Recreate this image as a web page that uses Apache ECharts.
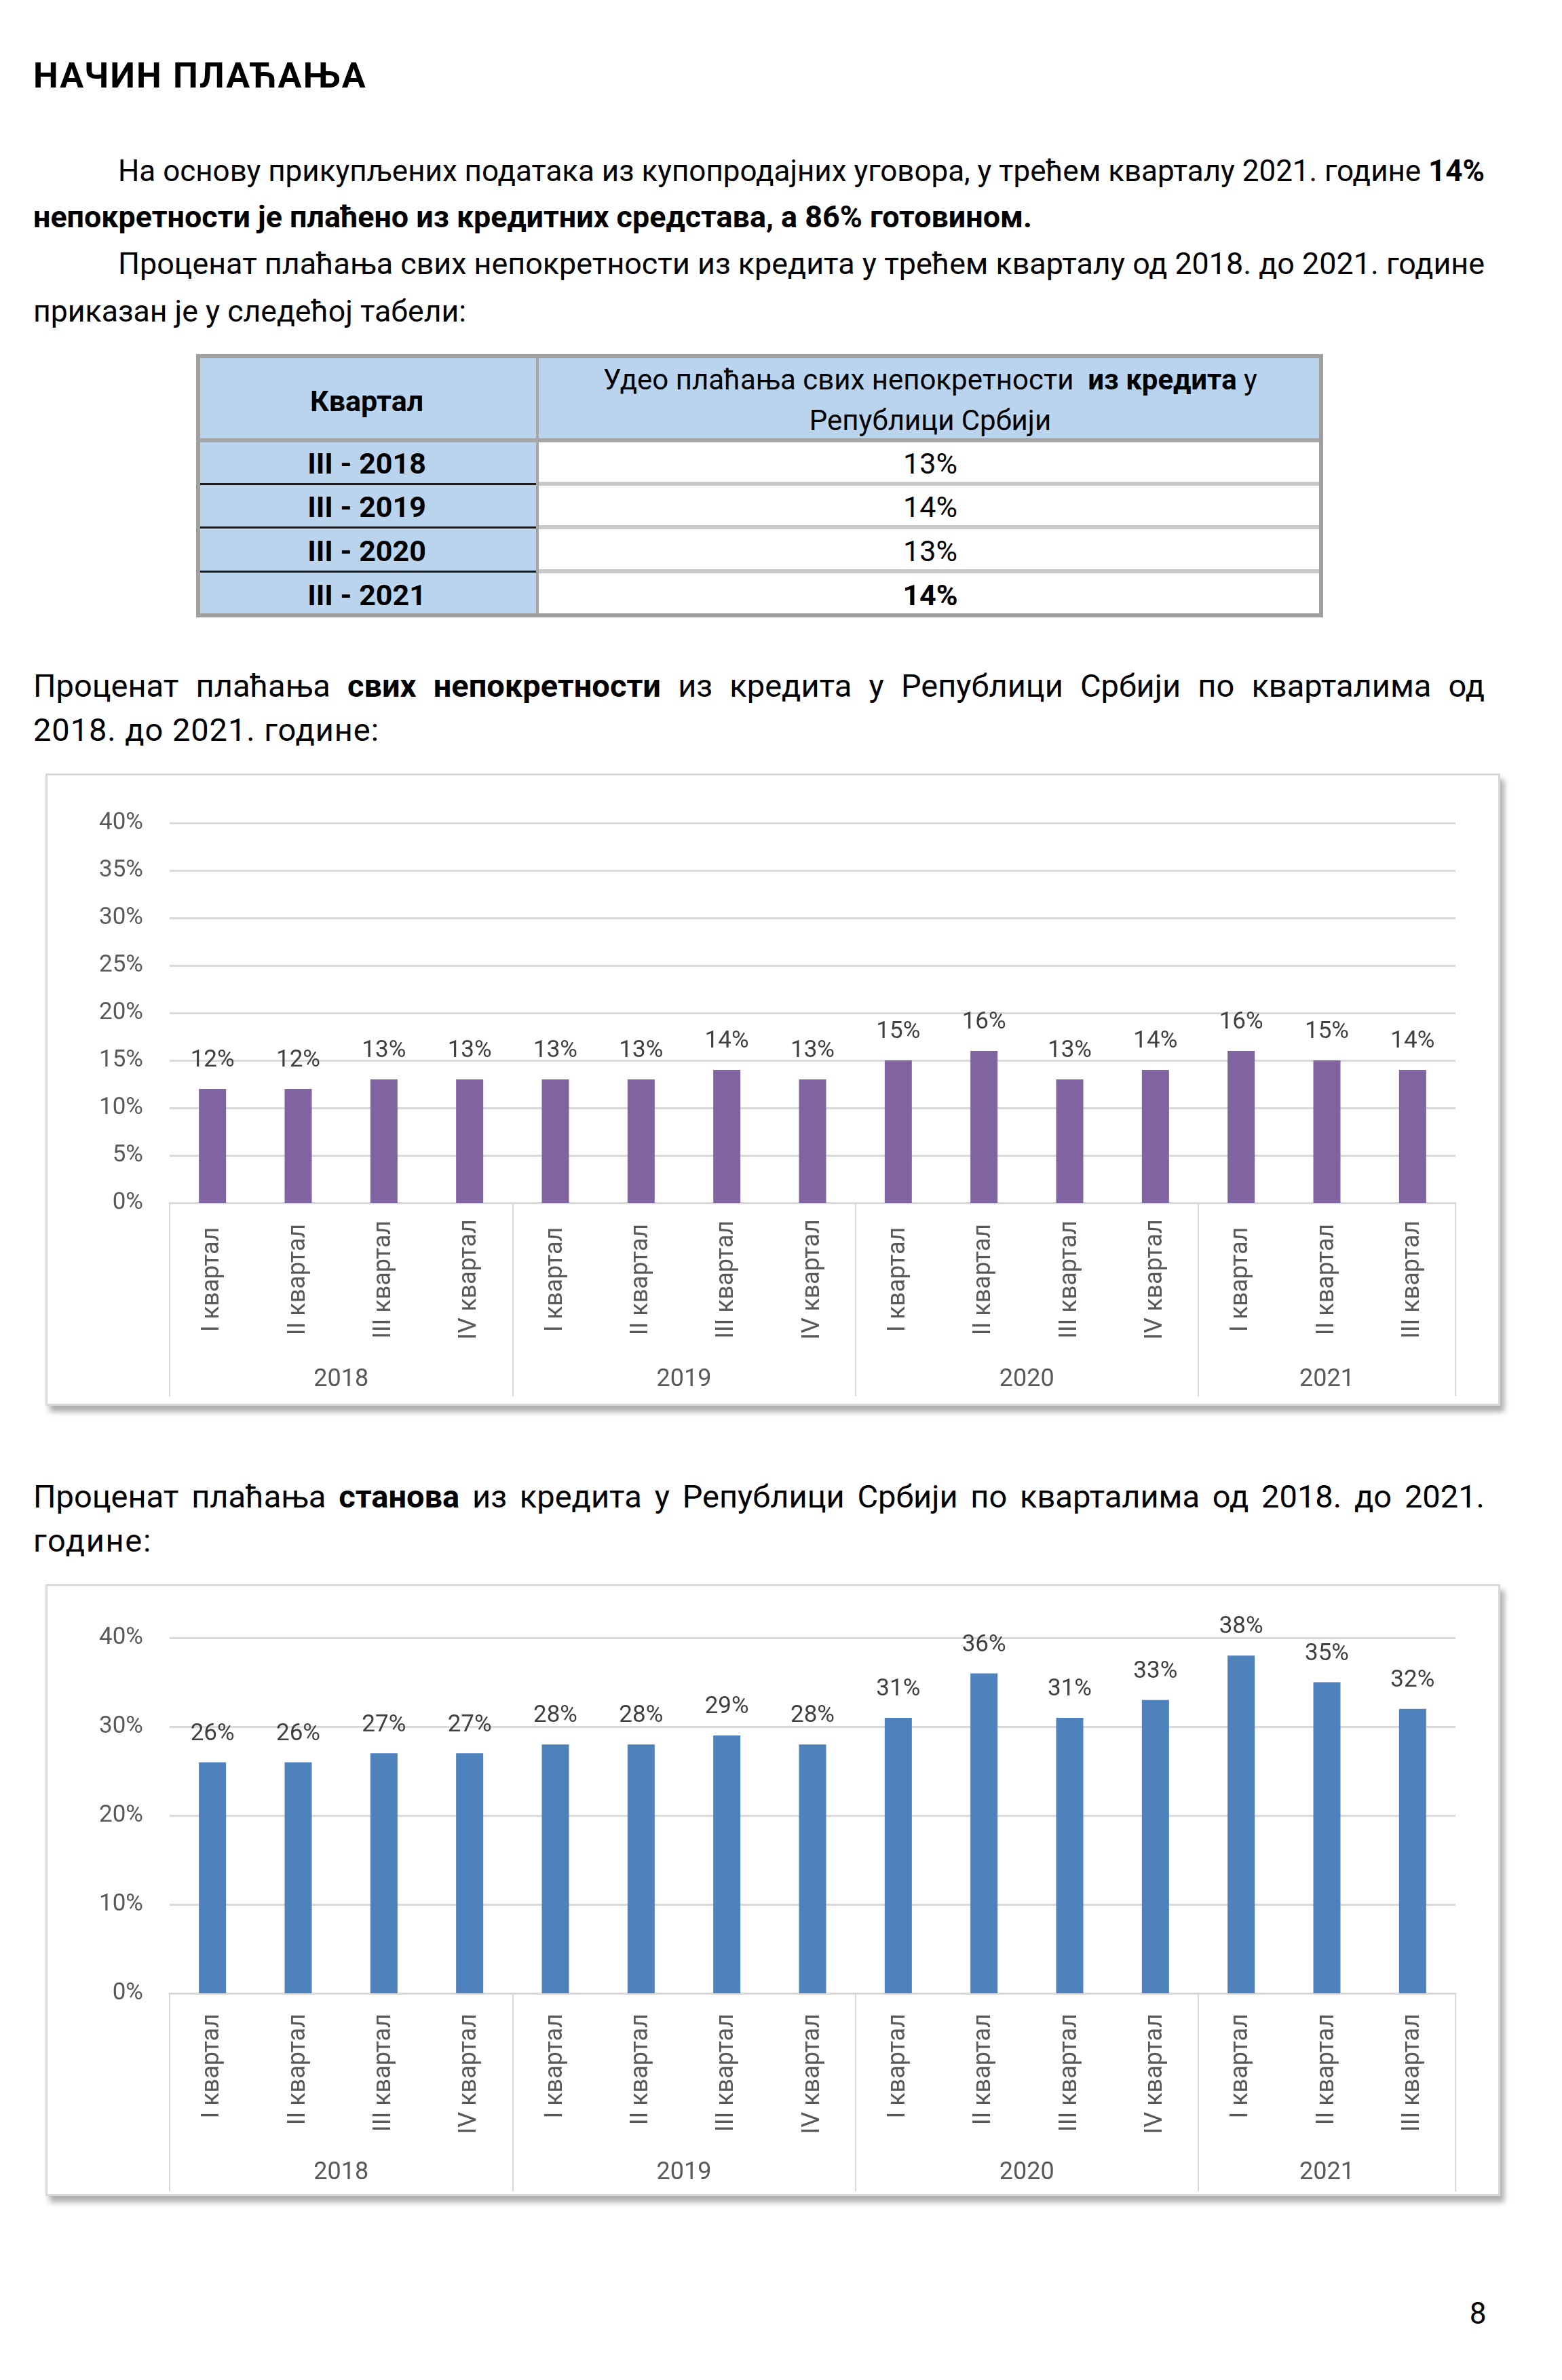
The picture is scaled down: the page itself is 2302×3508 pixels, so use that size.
<!DOCTYPE html>
<html lang="sr"><head><meta charset="utf-8">
<script src="https://cdn.jsdelivr.net/npm/echarts@6/dist/echarts.min.js"></script>
<style>
html,body{margin:0;padding:0;background:#fff;}
body{width:2302px;height:3508px;position:relative;overflow:hidden;font-family:Roboto,"Noto Sans",sans-serif;color:#000;}
.ln{position:absolute;white-space:nowrap;height:64px;line-height:64px;font-size:45px;}
.ln > span{display:inline-block;transform-origin:0 50%;}
.frame{position:absolute;box-sizing:border-box;border:3px solid #D9D9D9;background:#fff;box-shadow:6px 9px 8px rgba(0,0,0,0.32);}
.chart{position:absolute;}
.tb{position:absolute;box-sizing:border-box;}
.tt{position:absolute;white-space:nowrap;text-align:center;font-size:43px;height:60px;line-height:60px;}
</style>
</head><body>

<div id="page"></div>
<div class="frame" style="left:67px;top:1140px;width:2144px;height:932px;"></div>
<div id="c1" class="chart" style="left:67px;top:1140px;width:2144px;height:932px;"></div>
<div class="frame" style="left:67px;top:2335px;width:2144px;height:902px;"></div>
<div id="c2" class="chart" style="left:67px;top:2335px;width:2144px;height:902px;"></div>

<script>
// ---------- data ----------
const quarters = ["I квартал","II квартал","III квартал","IV квартал",
                  "I квартал","II квартал","III квартал","IV квартал",
                  "I квартал","II квартал","III квартал","IV квартал",
                  "I квартал","II квартал","III квартал"];
const years = ["2018","2019","2020","2021"];
const quartersPerYear = [4,4,4,3];
const allPropertyShare = [12,12,13,13,13,13,14,13,15,16,13,14,16,15,14];
const flatShare = [26,26,27,27,28,28,29,28,31,36,31,33,38,35,32];
const tableQuarters = ["III - 2018","III - 2019","III - 2020","III - 2021"];
const tableShares = ["13%","14%","13%","14%"];

// ---------- page text ----------
const page = document.getElementById('page');
function line(html, left, cy, width, mode, extra){
  const d = document.createElement('div');
  d.className = 'ln';
  d.style.left = left + 'px';
  d.style.top = (cy - 32) + 'px';
  d.dataset.w = width;
  d.dataset.m = mode;
  if (extra) d.style.cssText += extra;
  d.innerHTML = '<span>' + html + '</span>';
  page.appendChild(d);
}
line('<b>НАЧИН ПЛАЋАЊА</b>', 49, 112, 492, 'ls', 'font-size:52px;');
line('На основу прикупљених података из купопродајних уговора, у трећем кварталу 2021. године <b>14%</b>', 174, 252, 2014, 'j');
line('<b>непокретности је плаћено из кредитних средстава, а 86% готовином.</b>', 49, 320, 1472, 'ls');
line('Проценат плаћања свих непокретности из кредита у трећем кварталу од 2018. до 2021. године', 174, 389, 2014, 'j');
line('приказан је у следећој табели:', 49, 459, 638, 'ls');
line('Проценат плаћања <b>свих непокретности</b> из кредита у Републици Србији по кварталима од', 49, 1011, 2139, 'j', 'font-size:47px;');
line('2018. до 2021. године:', 49, 1076, 510, 'ls', 'font-size:47px;');
line('Проценат плаћања <b>станова</b> из кредита у Републици Србији по кварталима од 2018. до 2021.', 49, 2206, 2139, 'j', 'font-size:47px;');
line('године:', 49, 2271, 175, 'ls', 'font-size:47px;');

const pn = document.createElement('div');
pn.className = 'tt';
pn.style.cssText = 'left:2148px;top:3380px;width:60px;font-size:44px;';
pn.textContent = '8';
page.appendChild(pn);

// ---------- table ----------
function box(l,t,w,h,css){const d=document.createElement('div');d.className='tb';d.style.cssText='left:'+l+'px;top:'+t+'px;width:'+w+'px;height:'+h+'px;'+css;page.appendChild(d);}
function ttext(html, cx, cy, w, css){const d=document.createElement('div');d.className='tt';d.style.cssText='left:'+(cx-w/2)+'px;top:'+(cy-30)+'px;width:'+w+'px;'+(css||'');d.innerHTML=html;page.appendChild(d);}
const TL=289, TT=522, TR=1950, TB=910, TC=792;
const rowB=[649,713,777,842,910];
box(TL,TT,TC-TL,TB-TT,'background:#BAD4EE;');
box(TC,TT,TR-TC,rowB[0]-TT,'background:#BAD4EE;');
for(let i=1;i<4;i++){
  box(TL+4,rowB[i]-1,TC-TL-4,3,'background:#1a1a1a;');
  box(TC,rowB[i]-3,TR-TC,6,'background:#C9C9C9;');
}
box(TL,rowB[0]-3,TR-TL,6,'background:#A6A6A6;');
box(TC-2,TT,4,TB-TT,'background:#A6A6A6;');
box(TL,TT,TR-TL,TB-TT,'border:6px solid #A0A0A0;');
ttext('<b>Квартал</b>', (TL+TC)/2, 591, 480);
ttext('Удео плаћања свих непокретности&nbsp; <b>из кредита</b> у', (TC+TR)/2, 560, 1150, 'font-size:42px;');
ttext('Републици Србији', (TC+TR)/2, 620, 800, 'font-size:42px;');
const rowC=[683,747,812,877];
tableQuarters.forEach((q,i)=>{
  ttext('<b>'+q+'</b>', (TL+TC)/2, rowC[i], 480);
  ttext(i===tableQuarters.length-1 ? '<b>'+tableShares[i]+'</b>' : tableShares[i], (TC+TR)/2, rowC[i], 400);
});

function fit(){
  document.querySelectorAll('.ln').forEach(el=>{
    const target=+el.dataset.w, mode=el.dataset.m, sp=el.firstElementChild;
    const w=sp.getBoundingClientRect().width;
    if(mode==='j'){
      if(w<target){const n=(sp.textContent.match(/ /g)||[]).length; sp.style.wordSpacing=((target-w)/n)+'px';}
      else sp.style.transform='scaleX('+(target/w)+')';
    } else {
      if(w>target) sp.style.transform='scaleX('+(target/w)+')';
      else sp.style.letterSpacing=((target-w)/sp.textContent.length)+'px';
    }
  });
}
fit();

// ---------- charts ----------
const bounds=[0]; quartersPerYear.forEach(n=>bounds.push(bounds[bounds.length-1]+n));
const yearCenters=years.map((y,i)=>(bounds[i]+bounds[i+1])/2);

function makeOption(values,color,max,interval,gridTop,qAlign,qMargin,yearMargin,sepLen){
  return {
    animation:false,
    textStyle:{fontFamily:'Roboto, "Noto Sans", sans-serif'},
    grid:{left:183,right:66,top:gridTop,bottom:299,containLabel:false},
    xAxis:[{
      type:'category', data:quarters,
      axisLine:{show:true,lineStyle:{color:'#D9D9D9',width:3}},
      axisTick:{show:false},
      axisLabel:{interval:0,rotate:90,fontSize:36,color:'#595959',margin:qMargin,align:qAlign,verticalAlign:'middle'}
    },{
      type:'value', min:0, max:bounds[bounds.length-1], position:'bottom',
      axisLine:{show:false}, splitLine:{show:false},
      axisTick:{show:true,customValues:bounds,length:sepLen,lineStyle:{color:'#D9D9D9',width:2}},
      axisLabel:{customValues:yearCenters,fontSize:36,color:'#595959',margin:yearMargin,
        formatter:(v)=>years[yearCenters.indexOf(v)]}
    }],
    yAxis:{
      type:'value', min:0, max:max, interval:interval,
      axisLine:{show:false}, axisTick:{show:false},
      axisLabel:{formatter:'{value}%',fontSize:35,color:'#595959',margin:39},
      splitLine:{lineStyle:{color:'#D9D9D9',width:3}}
    },
    series:[{
      type:'bar', data:values, barWidth:40, xAxisIndex:0,
      itemStyle:{color:color},
      label:{show:true,position:'top',distance:24,formatter:'{c}%',fontSize:35,color:'#404040'}
    }]
  };
}
const ch1=echarts.init(document.getElementById('c1'),null,{renderer:'canvas'});
ch1.setOption(makeOption(allPropertyShare,'#8064A2',40,5,73,'center',113,243,285));
const ch2=echarts.init(document.getElementById('c2'),null,{renderer:'canvas'});
ch2.setOption(makeOption(flatShare,'#4F81BD',40,10,79,'right',30,247,292));
</script>
</body></html>
